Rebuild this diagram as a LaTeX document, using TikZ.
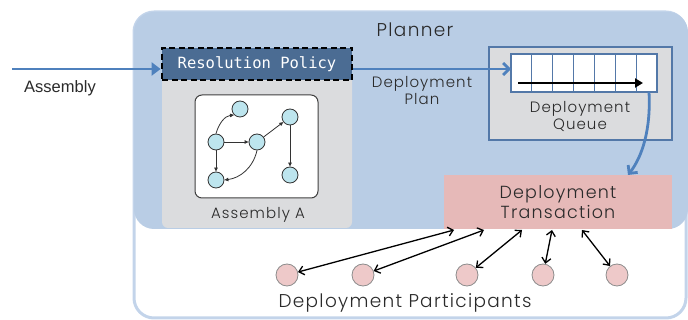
\documentclass[tikz,border=0pt]{standalone}
\usepackage{fontspec}
\setmainfont{Poppins Light}[LetterSpace=7]
\newfontfamily\arialf{Liberation Sans}
\newfontfamily\monof{DejaVu Sans Mono}
\usetikzlibrary{arrows.meta,calc}
\definecolor{planfill}{HTML}{B9CDE5}
\definecolor{planline}{HTML}{C3D4EA}
\definecolor{grayfill}{HTML}{DBDCDE}
\definecolor{policyfill}{HTML}{4B6C93}
\definecolor{queueline}{HTML}{5378A8}
\definecolor{arrowblue}{HTML}{4F81BD}
\definecolor{transfill}{HTML}{E6B9B8}
\definecolor{partfill}{HTML}{EEC9C9}
\definecolor{cyanfill}{HTML}{BDE5EE}
\definecolor{txt}{HTML}{2A2A2A}
\tikzset{
  gnode/.style={circle,draw=black!80,line width=0.8pt,fill=cyanfill,minimum size=16pt,inner sep=0pt},
  gedge/.style={draw=black!80,line width=0.8pt,-{Triangle[length=4pt,width=3.5pt]}},
  pnode/.style={circle,draw=black!45,line width=0.8pt,fill=partfill,minimum size=22pt,inner sep=0pt},
  parrow/.style={draw=black,line width=1.3pt,{Straight Barb[length=5pt,width=9pt]}-{Straight Barb[length=5pt,width=9pt]}},
  bluearrow/.style={draw=arrowblue,line width=2.8pt},
  qcell/.style={draw=queueline,line width=1.2pt,fill=white},
  lbl/.style={text=txt,align=center,inner sep=0pt},
}
\begin{document}
\begin{tikzpicture}[x=1pt,y=-1pt]
\useasboundingbox (0,0) rectangle (688,320);
% planner frame
\draw[planline,line width=3pt,rounded corners=20pt] (134,12) rectangle (686,318);
\fill[planfill,rounded corners=20pt] (134,12) rectangle (688,229);
\node[lbl,font=\fontsize{18.5}{21}\selectfont] (planner) at (415,30) {Planner};
% assembly area
\fill[grayfill,rounded corners=6pt] (162,70) rectangle (352,228);
\fill[grayfill] (162,70) rectangle (352,100);
\node[draw=black,line width=2.8pt,dash pattern=on 6pt off 3.5pt,fill=policyfill,minimum width=190pt,minimum height=32pt,inner sep=0pt,text=white,font=\monof\fontsize{15.5}{18}\selectfont] (RP) at (257,64) {Resolution Policy};
\draw[draw=black!75,line width=1pt,fill=white,rounded corners=7pt] (195,95) rectangle (318,198);
\node[gnode] (A) at (240,109) {};
\node[gnode] (B) at (216,142) {};
\node[gnode] (C) at (257,142) {};
\node[gnode] (D) at (290,117) {};
\node[gnode] (E) at (216,180) {};
\node[gnode] (F) at (290,175) {};
\draw[gedge] (B.north) .. controls (219,123) and (225,116) .. (A.south west);
\draw[gedge] (B) -- (C);
\draw[gedge] (C) -- (D);
\draw[gedge] (D) -- (F);
\draw[gedge] (B) -- (E);
\draw[gedge] (C.south) .. controls (253,168) and (240,178) .. (E.east);
\node[lbl,font=\fontsize{15}{18}\selectfont] (asmA) at (258,215) {Assembly A};
% assembly input
\coordinate (ain) at (12,69);
\draw[bluearrow,-{Triangle[length=9pt,width=13pt]}] (ain) -- (ain -| RP.west);
\node[lbl,font=\arialf\fontsize{16.5}{19}\selectfont] (asm) at (60,88) {Assembly};
% queue
\node[draw=queueline,line width=2pt,fill=grayfill,minimum width=183pt,minimum height=93pt,inner sep=0pt] (Q) at (580.5,93.5) {};
\foreach \i in {0,...,6} {
  \draw[qcell] ({511+\i*20.857},54) rectangle ({511+(\i+1)*20.857},92);
}
\coordinate (qs) at (518,83);
\coordinate (qe) at (643,83);
\draw[draw=black,line width=2.5pt,-{Triangle[length=8pt,width=9pt]}] (qs) -- (qe);
\node[lbl,font=\fontsize{15}{17}\selectfont] (qlabel) at (580,116) {Deployment\\Queue};
\coordinate (qin) at (511,69);
\draw[bluearrow,-{Straight Barb[length=6pt,width=12pt]}] (RP.east |- qin) -- (qin);
\node[lbl,font=\fontsize{15}{17}\selectfont] (plan) at (422,91) {Deployment\\Plan};
% transaction
\node[fill=transfill,minimum width=228pt,minimum height=54pt,inner sep=0pt] (T) at (558,202) {};
\node[lbl,font=\fontsize{17.5}{19.5}\selectfont] (tlabel) at (558,202) {Deployment\\Transaction};
\coordinate (qout) at (649,92);
\coordinate (tin) at (628,175);
\draw[bluearrow,-{Straight Barb[length=6pt,width=12pt]}] (qout) .. controls (651,130) and (642,157) .. (tin);
% participants
\node[pnode] (p1) at (287,275) {};
\node[pnode] (p2) at (363,275) {};
\node[pnode] (p3) at (467,275) {};
\node[pnode] (p4) at (543,275) {};
\node[pnode] (p5) at (617,275) {};
\coordinate (t1) at (454,230);
\coordinate (t2) at (484,230);
\coordinate (t3) at (522,230);
\coordinate (t4) at (552,230);
\coordinate (t5) at (582,230);
\draw[parrow] (p1) -- (t1);
\draw[parrow] (p2) -- (t2);
\draw[parrow] (p3) -- (t3);
\draw[parrow] (p4) -- (t4);
\draw[parrow] (p5) -- (t5);
\node[lbl,font=\fontsize{18.5}{21}\selectfont] (plabel) at (405,303) {Deployment Participants};
\end{tikzpicture}
\end{document}
